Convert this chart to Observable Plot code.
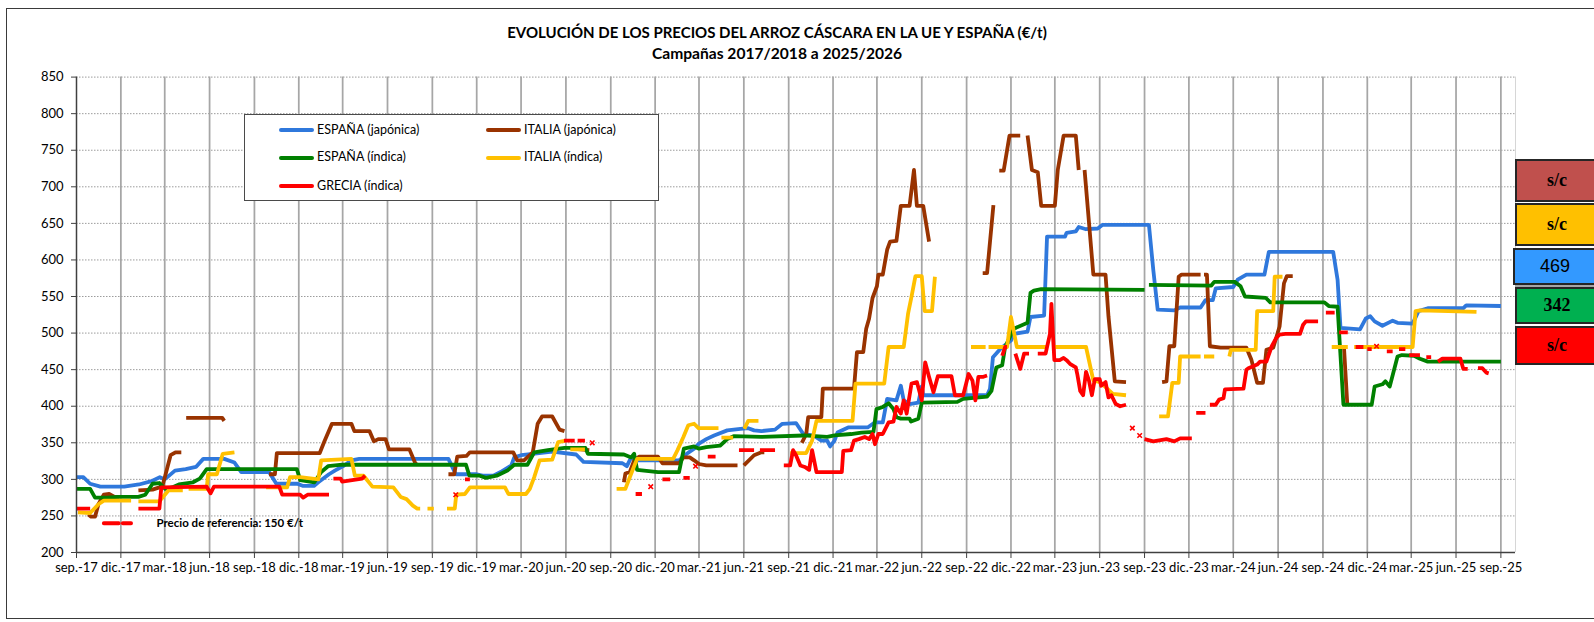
<!DOCTYPE html>
<html><head><meta charset="utf-8">
<script src="https://cdn.jsdelivr.net/npm/d3@7"></script>
<script src="https://cdn.jsdelivr.net/npm/@observablehq/plot@0.6"></script>
<style>
html,body{margin:0;padding:0;background:#fff;}
#wrap{position:relative;width:1594px;height:622px;overflow:hidden;font-family:Lato,"Liberation Sans",sans-serif;color:#000;}
#frame{position:absolute;left:6px;top:8px;width:1620px;height:611px;border:1px solid #3a3a3a;box-sizing:border-box;}
.title{position:absolute;left:0;width:1554px;text-align:center;font-weight:bold;line-height:18px;white-space:nowrap;}
#chart{position:absolute;left:0;top:0;}
#legend{position:absolute;left:244px;top:114px;width:415px;height:87px;border:1px solid #4a4a4a;background:#fff;box-sizing:border-box;z-index:2;}
.lg-line{position:absolute;height:4px;width:35px;border-radius:2px;}
.lg-text{position:absolute;font-size:12.5px;line-height:16px;white-space:nowrap;}
.box{position:absolute;left:1515px;width:84px;border:2px solid #262626;box-sizing:border-box;display:flex;align-items:center;justify-content:center;font-size:18px;z-index:2;}
.serif{font-family:"Liberation Serif","DejaVu Serif",serif;font-weight:bold;}
.sans{font-family:"Liberation Sans",Arial,sans-serif;}
</style></head>
<body>
<div id="wrap">
  <div id="chart"></div>
  <div id="frame"></div>
  <div class="title" id="t1" style="top:23px;font-size:15px"></div>
  <div class="title" id="t2" style="top:44px;font-size:15.6px"></div>
  <div id="legend"></div>
  <div id="boxes"></div>
</div>
<script>
// ---------- texts ----------
const titleText = "EVOLUCIÓN DE LOS PRECIOS DEL ARROZ CÁSCARA EN LA UE Y ESPAÑA (€/t)";
const subtitleText = "Campañas 2017/2018 a 2025/2026";

// ---------- axes ----------
const yTicks = [200,250,300,350,400,450,500,550,600,650,700,750,800,850];
const xTickDates = ["2017-09-01","2017-12-01","2018-03-01","2018-06-01","2018-09-01","2018-12-01","2019-03-01","2019-06-01","2019-09-01","2019-12-01","2020-03-01","2020-06-01","2020-09-01","2020-12-01","2021-03-01","2021-06-01","2021-09-01","2021-12-01","2022-03-01","2022-06-01","2022-09-01","2022-12-01","2023-03-01","2023-06-01","2023-09-01","2023-12-01","2024-03-01","2024-06-01","2024-09-01","2024-12-01","2025-03-01","2025-06-01","2025-09-01"];
const xTickLabels = ["sep.-17","dic.-17","mar.-18","jun.-18","sep.-18","dic.-18","mar.-19","jun.-19","sep.-19","dic.-19","mar.-20","jun.-20","sep.-20","dic.-20","mar.-21","jun.-21","sep.-21","dic.-21","mar.-22","jun.-22","sep.-22","dic.-22","mar.-23","jun.-23","sep.-23","dic.-23","mar.-24","jun.-24","sep.-24","dic.-24","mar.-25","jun.-25","sep.-25"];
const xDomain = ["2017-09-01","2025-10-01"];

// ---------- series (null = gap) ----------
const seriesNames = ["ESPAÑA (japónica)","ITALIA (japónica)","ESPAÑA (índica)","ITALIA (índica)","GRECIA (índica)"];
const seriesColors = ["#2f78dc","#993300","#008000","#ffc000","#ff0000"];

const espanaJaponica = [["2017-09-01",303],["2017-09-15",303],["2017-09-29",294],["2017-10-20",290],["2017-12-08",290],["2018-01-07",293],["2018-02-04",298],["2018-02-19",303],["2018-03-01",300],["2018-03-22",312],["2018-04-13",314],["2018-05-04",317],["2018-05-19",328],["2018-07-01",328],["2018-07-22",323],["2018-08-05",310],["2018-10-01",310],["2018-10-16",294],["2018-11-28",294],["2018-12-10",291],["2019-01-01",291],["2019-01-10",296],["2019-02-01",307],["2019-02-13",312],["2019-03-04",319],["2019-03-19",326],["2019-04-04",328],["2019-10-04",328],["2019-10-19",307],["2019-12-01",307],["2019-12-13",305],["2020-01-04",305],["2020-01-19",310],["2020-02-10",319],["2020-02-16",330],["2020-03-01",333],["2020-03-25",335],["2020-05-04",338],["2020-06-22",334],["2020-07-07",324],["2020-09-25",322],["2020-10-04",318],["2020-10-13",330],["2020-10-25",326],["2021-01-19",326],["2021-02-04",335],["2021-02-19",342],["2021-03-01",349],["2021-03-16",355],["2021-04-01",360],["2021-04-28",367],["2021-05-25",369],["2021-06-10",370],["2021-06-22",367],["2021-07-07",366],["2021-08-04",368],["2021-08-19",376],["2021-09-16",377],["2021-10-01",362],["2021-10-22",360],["2021-11-07",353],["2021-11-19",353],["2021-11-25",345],["2021-12-04",353],["2021-12-10",364],["2022-01-01",371],["2022-02-10",371],["2022-02-25",378],["2022-03-13",378],["2022-03-22",410],["2022-04-10",408],["2022-04-19",428],["2022-04-25",408],["2022-05-07",403],["2022-05-25",405],["2022-06-01",427],["2022-06-04",415],["2022-10-13",415],["2022-10-19",424],["2022-10-25",467],["2022-11-10",479],["2022-12-01",490],["2022-12-07",499],["2023-01-04",502],["2023-01-10",522],["2023-02-07",524],["2023-02-13",632],["2023-03-22",632],["2023-03-25",637],["2023-04-13",639],["2023-04-19",645],["2023-05-04",642],["2023-05-28",643],["2023-06-07",648],["2023-09-10",648],["2023-09-19",586],["2023-09-28",532],["2023-11-01",531],["2023-11-13",535],["2023-12-25",535],["2024-01-04",545],["2024-01-19",545],["2024-01-25",561],["2024-03-01",563],["2024-03-10",573],["2024-03-28",580],["2024-05-04",580],["2024-05-13",611],["2024-09-22",611],["2024-10-01",573],["2024-10-07",507],["2024-11-16",505],["2024-11-28",520],["2024-12-07",523],["2024-12-16",516],["2025-01-01",510],["2025-01-22",517],["2025-02-01",514],["2025-03-04",513],["2025-03-16",530],["2025-04-04",534],["2025-06-16",534],["2025-06-22",538],["2025-09-01",537]];

const italiaJaponica = [["2017-09-25",252],["2017-10-01",249],["2017-10-09",249],["2017-10-16",266],["2017-10-27",279],["2017-11-07",280],["2017-11-18",276],["2017-11-28",276],null,
["2018-01-06",285],["2018-02-04",286],["2018-02-18",289],["2018-02-25",293],["2018-03-02",305],["2018-03-13",333],["2018-03-23",337],["2018-04-04",337],null,
["2018-04-14",384],["2018-06-27",384],["2018-07-01",380],null,
["2018-10-01",307],["2018-10-13",307],["2018-10-17",336],["2019-01-13",336],["2019-01-22",351],["2019-02-07",376],["2019-03-19",376],["2019-03-25",366],["2019-04-25",366],["2019-05-04",352],["2019-05-13",355],["2019-05-28",355],["2019-06-04",341],["2019-07-16",341],["2019-07-28",322],["2019-08-01",320],null,
["2019-10-04",307],["2019-10-16",307],["2019-10-22",331],["2019-11-10",332],["2019-11-17",337],["2020-02-14",337],["2020-02-22",326],["2020-03-07",326],["2020-03-25",337],["2020-04-04",376],["2020-04-13",386],["2020-05-04",386],["2020-05-19",368],["2020-05-29",366],null,
["2020-06-13",342],["2020-07-19",340],null,
["2020-09-28",296],["2020-10-01",308],["2020-10-10",310],["2020-10-19",326],["2020-10-29",331],["2020-12-07",331],["2020-12-16",322],["2021-01-19",322],["2021-01-28",330],["2021-02-10",330],["2021-02-19",326],["2021-03-01",321],["2021-03-16",319],["2021-05-19",319],null,
["2021-06-01",319],["2021-06-22",333],["2021-07-07",337],["2021-07-13",337],null,
["2021-09-28",350],["2021-10-07",362],["2021-10-11",385],["2021-11-07",385],["2021-11-10",424],["2022-01-13",424],["2022-01-19",474],["2022-02-01",474],["2022-02-07",506],["2022-02-13",520],["2022-02-20",548],["2022-03-01",564],["2022-03-04",580],["2022-03-13",580],["2022-03-22",614],["2022-03-28",625],["2022-04-10",626],["2022-04-19",674],["2022-05-07",674],["2022-05-16",723],["2022-05-22",674],["2022-06-04",674],["2022-06-16",625],null,
["2022-10-04",582],["2022-10-13",582],["2022-10-26",675],null,
["2022-11-07",722],["2022-11-16",722],["2022-11-28",770],["2022-12-20",770],null,
["2023-01-04",770],["2023-01-13",723],["2023-01-25",720],["2023-02-01",674],["2023-03-01",674],["2023-03-07",723],["2023-03-19",770],["2023-04-13",770],["2023-04-19",723],null,
["2023-05-01",723],["2023-05-19",580],["2023-06-13",580],["2023-06-19",523],["2023-07-02",434],["2023-07-25",433],null,
["2023-10-07",433],["2023-10-16",434],["2023-10-22",482],["2023-11-01",482],["2023-11-10",577],["2023-11-16",580],["2023-12-25",580],null,
["2024-01-01",580],["2024-01-07",580],["2024-01-13",482],["2024-02-04",480],["2024-03-28",480],["2024-04-07",464],["2024-04-19",432],["2024-05-01",432],["2024-05-08",477],["2024-05-22",480],["2024-06-04",509],["2024-06-13",568],["2024-06-19",578],["2024-07-01",578],null,
["2024-10-14",482],["2024-10-21",402]];

const espanaIndica = [["2017-09-01",287],["2017-09-29",287],["2017-10-09",275],["2017-11-04",275],["2017-11-25",276],["2018-01-06",276],["2018-01-20",279],["2018-02-04",294],["2018-02-18",295],["2018-03-02",287],["2018-03-16",289],["2018-03-30",293],["2018-04-28",296],["2018-05-12",301],["2018-05-26",314],["2018-11-27",314],["2018-12-04",299],["2019-01-02",296],["2019-01-16",310],["2019-01-30",318],["2019-02-28",320],["2019-11-09",320],["2019-11-16",305],["2019-12-07",305],["2019-12-20",302],["2020-01-11",305],["2020-02-02",312],["2020-02-16",320],["2020-03-14",320],["2020-03-28",337],["2020-04-25",340],["2020-05-29",343],["2020-07-11",343],["2020-07-16",335],["2020-09-28",334],["2020-10-13",330],["2020-10-19",335],["2020-10-25",313],["2020-12-07",310],["2021-01-19",310],["2021-01-29",342],["2021-02-19",345],["2021-03-01",342],["2021-03-16",344],["2021-04-13",346],["2021-04-28",355],["2021-05-11",359],["2021-07-07",358],["2021-10-01",360],["2021-11-19",358],["2021-12-04",360],["2022-01-07",362],["2022-01-28",364],["2022-02-22",365],["2022-02-28",396],["2022-03-13",399],["2022-03-25",404],["2022-04-04",396],["2022-04-10",385],["2022-04-19",383],["2022-05-07",383],["2022-05-10",379],["2022-05-25",383],["2022-06-01",405],["2022-08-13",406],["2022-08-25",410],["2022-10-13",413],["2022-10-22",421],["2022-11-01",453],["2022-11-13",456],["2022-11-19",481],["2022-12-07",506],["2023-01-04",514],["2023-01-10",555],["2023-01-17",558],["2023-02-01",560],["2023-09-01",559],null,
["2023-09-10",566],["2024-01-16",565],["2024-01-22",570],["2024-03-04",570],["2024-03-16",564],["2024-03-25",550],["2024-05-07",548],["2024-05-16",542],["2024-09-04",542],["2024-09-13",537],["2024-10-01",536],["2024-10-13",402],["2024-12-10",402],["2024-12-16",427],["2025-01-01",430],["2025-01-07",434],["2025-01-16",427],["2025-02-01",468],["2025-02-10",470],["2025-03-07",469],["2025-03-19",465],["2025-04-04",461],["2025-09-01",461]];

const italiaIndica = [["2017-09-04",255],["2017-09-29",254],["2017-10-16",266],["2017-10-27",271],["2017-12-22",271],null,
["2018-01-06",270],["2018-02-18",270],["2018-02-28",278],["2018-03-09",285],["2018-04-07",285],null,
["2018-04-19",287],["2018-05-26",287],["2018-05-29",307],["2018-06-16",307],["2018-06-28",335],["2018-07-22",337],null,
["2018-09-25",289],["2018-11-07",289],["2018-11-13",303],["2018-12-04",303],["2019-01-10",300],["2019-01-16",326],["2019-03-19",328],["2019-03-26",305],["2019-04-13",305],["2019-05-01",290],["2019-06-13",289],["2019-06-28",276],["2019-07-10",273],["2019-07-23",264],["2019-08-01",260],["2019-08-07",260],null,
["2019-08-22",260],["2019-09-04",260],null,
["2019-10-01",260],["2019-10-17",260],["2019-10-20",279],["2019-11-07",280],["2019-11-17",289],["2020-01-28",289],["2020-02-04",280],["2020-03-11",280],["2020-03-19",287],["2020-03-28",303],["2020-04-08",326],["2020-05-04",327],["2020-05-16",351],["2020-06-01",353],null,
["2020-06-10",341],["2020-07-10",341],null,
["2020-09-13",287],["2020-10-01",287],["2020-10-13",308],["2020-10-25",328],["2021-01-07",328],["2021-01-16",340],["2021-01-28",358],["2021-02-07",374],["2021-02-19",376],["2021-02-28",370],["2021-04-10",370],null,
["2021-04-16",357],["2021-05-10",357],null,
["2021-06-02",369],["2021-06-10",380],["2021-07-01",380],null,
["2021-09-04",336],["2021-10-07",336],["2021-10-19",353],["2021-10-28",380],["2022-01-10",380],["2022-01-16",431],["2022-03-16",431],["2022-03-25",481],["2022-04-25",481],["2022-05-04",527],["2022-05-11",550],["2022-05-19",578],["2022-06-01",578],["2022-06-07",530],["2022-06-22",530],["2022-06-28",577],null,
["2022-09-10",481],["2022-10-10",481],null,
["2022-10-16",481],["2022-11-23",481],["2022-12-01",522],["2022-12-13",481],["2023-02-14",481],null,
["2023-02-25",481],["2023-05-04",481],["2023-05-19",435],["2023-06-02",433],["2023-06-28",417],["2023-07-25",415],null,
["2023-10-01",386],["2023-10-19",386],["2023-10-28",432],["2023-11-10",432],["2023-11-13",468],["2023-12-25",468],null,
["2024-01-01",468],["2024-01-22",468],null,
["2024-02-22",468],["2024-02-25",477],["2024-04-16",477],["2024-04-19",530],["2024-05-22",530],["2024-05-25",577],["2024-06-10",577],null,
["2024-09-19",481],["2024-10-22",481],null,
["2024-11-04",481],["2025-03-04",481],["2025-03-10",530],["2025-03-19",531],["2025-07-13",529]];

const greciaIndica = [["2017-09-01",260],["2017-09-29",260],null,
["2018-01-06",260],["2018-02-18",260],["2018-02-22",289],["2018-05-26",290],["2018-06-03",281],["2018-06-10",290],["2018-10-22",290],["2018-10-28",279],["2018-12-04",279],["2018-12-10",275],["2018-12-19",279],["2019-02-01",279],null,
["2019-02-10",301],["2019-02-25",301],["2019-02-28",297],["2019-04-10",301],["2019-04-16",305],null,
["2019-11-07",300],["2019-11-17",300],null,
["2020-05-28",353],["2020-06-19",353],null,
["2020-06-25",353],["2020-07-10",353],null,
["2020-10-22",280],["2020-11-04",280],null,
["2020-12-16",300],["2021-01-01",300],null,
["2021-01-28",302],["2021-02-10",302],null,
["2021-03-19",331],["2021-04-04",331],null,
["2021-05-22",340],["2021-06-22",340],null,
["2021-07-04",340],["2021-08-04",340],null,
["2021-08-22",319],["2021-09-04",319],["2021-09-10",340],["2021-09-16",333],["2021-09-25",319],["2021-10-04",317],["2021-10-13",313],["2021-10-19",340],["2021-10-28",310],["2021-12-19",310],["2021-12-22",339],["2022-01-07",340],["2022-01-13",353],["2022-01-23",355],["2022-02-04",358],["2022-02-13",355],["2022-02-20",362],["2022-02-25",348],["2022-03-04",362],["2022-03-13",362],["2022-03-25",378],["2022-04-04",379],["2022-04-10",399],["2022-04-19",390],["2022-04-25",408],["2022-05-01",390],["2022-05-11",431],["2022-05-22",433],["2022-06-01",408],["2022-06-08",460],["2022-06-16",440],["2022-06-25",419],["2022-07-04",441],["2022-08-01",441],["2022-08-08",415],["2022-08-25",415],["2022-09-05",444],["2022-09-13",435],["2022-09-19",408],["2022-09-25",440],["2022-10-04",440],["2022-10-13",442],null,
["2022-11-13",469],["2022-11-19",481],["2022-11-23",481],null,
["2022-12-10",472],["2022-12-20",451],["2022-12-28",472],["2023-01-07",472],null,
["2023-01-25",472],["2023-02-10",472],["2023-02-19",499],["2023-02-22",540],["2023-02-25",499],["2023-02-28",463],["2023-03-11",463],["2023-03-19",466],["2023-03-25",463],["2023-04-01",458],["2023-04-13",453],["2023-04-16",444],["2023-04-22",421],["2023-04-28",415],["2023-05-04",447],["2023-05-10",435],["2023-05-16",415],["2023-05-22",437],["2023-06-01",437],["2023-06-04",428],["2023-06-13",433],["2023-06-19",412],["2023-06-25",415],["2023-07-04",403],["2023-07-13",400],["2023-07-25",402],null,
["2023-09-01",355],["2023-09-19",352],["2023-10-16",355],["2023-11-01",352],["2023-11-13",356],["2023-12-07",356],null,
["2023-12-16",391],["2024-01-04",391],null,
["2024-01-13",402],["2024-01-25",402],["2024-02-01",409],["2024-02-10",411],["2024-02-13",423],["2024-03-22",424],["2024-03-28",450],["2024-04-01",452],["2024-04-19",457],["2024-04-25",461],["2024-05-08",461],["2024-05-19",482],["2024-05-28",493],["2024-06-04",498],["2024-06-16",499],["2024-07-16",499],["2024-07-22",511],["2024-07-28",516],["2024-08-22",516],null,
["2024-09-07",528],["2024-09-25",528],null,
["2024-10-04",501],["2024-10-22",501],null,
["2024-11-07",481],["2024-11-23",481],null,
["2024-12-01",478],["2024-12-10",478],null,
["2025-01-10",475],["2025-01-22",475],null,
["2025-02-04",478],["2025-02-17",478],null,
["2025-02-25",470],["2025-03-19",470],null,
["2025-04-01",467],["2025-04-11",467],null,
["2025-04-25",461],["2025-05-04",465],["2025-06-10",465],["2025-06-16",451],["2025-06-25",451],null,
["2025-07-16",452],["2025-07-25",452],["2025-08-02",446],["2025-08-07",445]];

const greciaMarkers = [["2019-10-19",279],["2020-07-25",350],["2020-11-22",290],["2021-02-22",318],["2023-08-07",370],["2023-08-22",360],["2024-12-20",482]];

// reference-price note
const refNoteText = "Precio de referencia: 150 €/t";
const refNoteLine = [["2017-10-27",240],["2017-12-22",240]];
const refNoteAnchor = ["2018-02-12",240];

// right-hand value boxes
const boxLabels = ["s/c","s/c","469","342","s/c"];
const boxColors = ["#c0504d","#ffc000","#3399ff","#00b050","#ff0000"];

// ---------- build ----------
function prep(arr){
  const out=[]; let last=null;
  for(const p of arr){
    if(p===null){ out.push({date:last, value:null}); }
    else { last=new Date(p[0]); out.push({date:last, value:p[1]}); }
  }
  return out;
}
const allSeries = [espanaJaponica, italiaJaponica, espanaIndica, italiaIndica, greciaIndica];
const tickDates = xTickDates.map(d=>new Date(d));
const labelOf = new Map(tickDates.map((d,i)=>[+d, xTickLabels[i]]));
const x0 = new Date(xDomain[0]), x1 = new Date(xDomain[1]);

const marks = [
  Plot.ruleY(yTicks.slice(1), {stroke:"#9c9c9c", strokeWidth:1, strokeDasharray:"1.5,1.5"}),
  Plot.ruleX(tickDates.slice(1), {y1:200, y2:850, stroke:"#a6a6a6", strokeWidth:1.75}),
  Plot.ruleX([x1], {y1:200, y2:850, stroke:"#d6d6d6", strokeWidth:1}),
];
allSeries.forEach((s,i)=>{
  marks.push(Plot.line(prep(s), {x:"date", y:"value", stroke:seriesColors[i], strokeWidth:3.8, strokeLinejoin:"round", strokeLinecap:"butt"}));
});
marks.push(Plot.dot(greciaMarkers.map(p=>({date:new Date(p[0]), value:p[1]})), {x:"date", y:"value", symbol:"times", r:2.2, stroke:"#ff0000", strokeWidth:1.6}));
marks.push(Plot.line(refNoteLine.map(p=>({date:new Date(p[0]), value:p[1]})), {x:"date", y:"value", stroke:"#ff0000", strokeWidth:3.8, strokeDasharray:"15,4"}));
marks.push(Plot.text([{date:new Date(refNoteAnchor[0]), value:refNoteAnchor[1]}], {x:"date", y:"value", text:()=>refNoteText, textAnchor:"start", fontWeight:"bold", fontSize:11.5, fill:"#000"}));
marks.push(Plot.ruleY([200], {stroke:"#404040", strokeWidth:1.5}));
marks.push(Plot.ruleX([x0], {y1:200, y2:850, stroke:"#404040", strokeWidth:1.5}));
marks.push(Plot.axisY({ticks:yTicks, tickSize:5, tickPadding:8, label:null, stroke:"#404040"}));
marks.push(Plot.axisX({ticks:tickDates, tickFormat:d=>labelOf.get(+d), tickSize:6, tickPadding:4, label:null, stroke:"#404040"}));

const chart = Plot.plot({
  width:1594, height:592,
  marginLeft:76, marginRight:79, marginTop:76.6, marginBottom:40,
  x:{type:"utc", domain:[x0,x1]},
  y:{domain:[200,850]},
  style:{fontFamily:"Lato, 'Liberation Sans', sans-serif", fontSize:"13px", color:"#000", background:"none", overflow:"visible"},
  marks
});
document.getElementById("chart").appendChild(chart);

document.getElementById("t1").textContent = titleText;
document.getElementById("t2").textContent = subtitleText;

// legend
const lg = document.getElementById("legend");
const legendPos = [[0,0],[1,0],[0,1],[1,1],[0,2]];
[0,1,2,3,4].forEach((si,k)=>{
  const [c,r] = legendPos[k];
  const cy = [15,42.5,71][r];
  const lx = c===0 ? 34 : 241;
  const ln = document.createElement("div"); ln.className="lg-line";
  ln.style.left = lx+"px"; ln.style.top = (cy-2)+"px"; ln.style.background = seriesColors[si];
  lg.appendChild(ln);
  const tx = document.createElement("div"); tx.className="lg-text";
  tx.style.left = (lx+38)+"px"; tx.style.top=(cy-8.5)+"px"; tx.textContent = seriesNames[si];
  lg.appendChild(tx);
});

// boxes
const boxGeom = [[159,43],[203,43],[248,37],[287,37],[326,39]];
const bx = document.getElementById("boxes");
const sep = document.createElement("div");
sep.style.cssText="position:absolute;left:1515px;top:284px;width:84px;height:4px;background:#a6a6a6;z-index:1;";
bx.appendChild(sep);
boxLabels.forEach((t,i)=>{
  const d = document.createElement("div");
  d.className = "box " + (t==="469" ? "sans" : "serif");
  d.style.top = boxGeom[i][0]+"px"; d.style.height = boxGeom[i][1]+"px";
  d.style.background = boxColors[i];
  if (t==="469") d.style.left = "1513px";
  d.textContent = t;
  bx.appendChild(d);
});
</script>
</body></html>
